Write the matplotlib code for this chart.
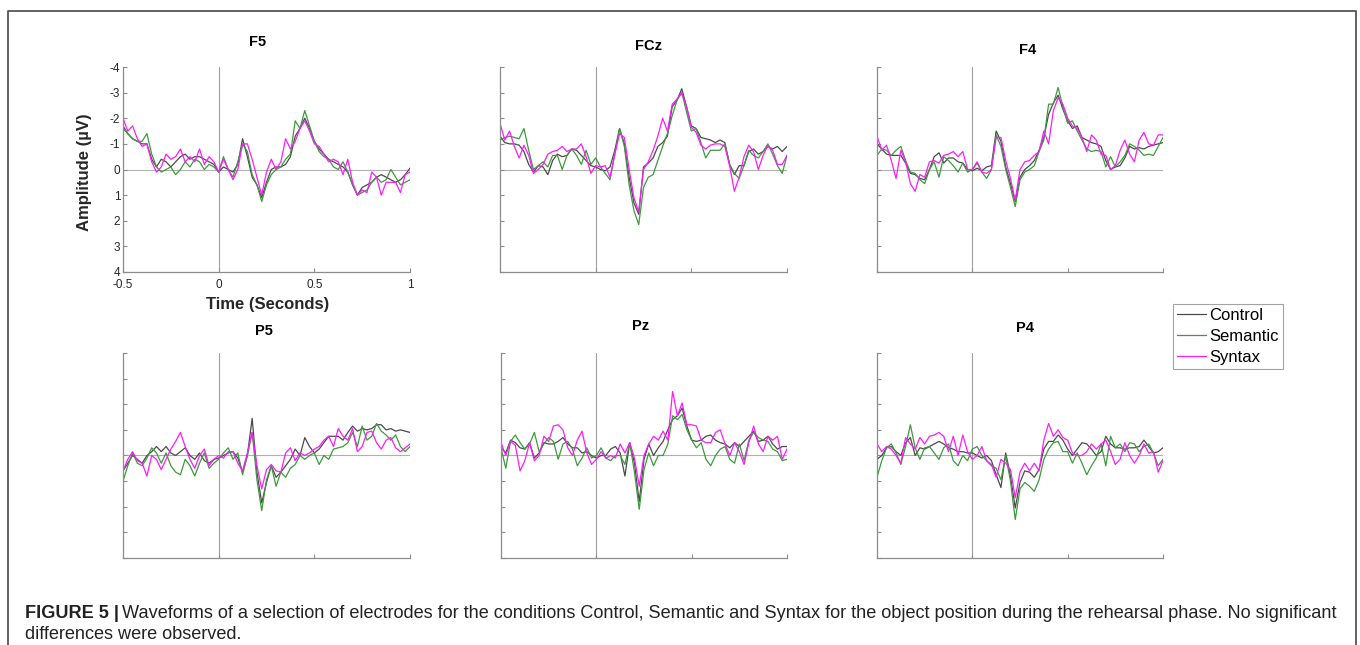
import numpy as np
import matplotlib.pyplot as plt
from matplotlib.lines import Line2D

# sample times (s), one value every 25 ms
times = np.round(np.arange(61) * 0.025 - 0.5, 3)

conditions = ['Control', 'Semantic', 'Syntax']
electrodes = ['F5', 'FCz', 'F4', 'P5', 'Pz', 'P4']

# amplitudes (uV)
f5_control = [-1.7, -1.4, -1.2, -1.1, -1.0, -1.0, -0.4, -0.1, -0.4, -0.3,
              -0.1, -0.3, -0.5, -0.6, -0.4, -0.5, -0.5, -0.4, -0.3, -0.2,
              0.1, -0.1, 0.0, 0.1, -0.2, -1.2, -0.5, 0.3, 0.6, 1.1,
              0.5, 0.0, -0.1, -0.1, -0.2, -0.5, -1.3, -1.6, -2.0, -1.6,
              -1.1, -0.8, -0.6, -0.4, -0.3, -0.2, -0.1, 0.1, 0.6, 1.0,
              0.7, 0.6, 0.5, 0.3, 0.2, 0.3, 0.4, 0.5, 0.4, 0.2,
              -0.05]
f5_semantic = [-1.6, -1.4, -1.2, -1.1, -1.1, -1.4, -0.6, -0.1, 0.1, 0.0,
               -0.1, 0.2, 0.0, -0.3, -0.1, -0.4, -0.3, 0.0, -0.2, -0.1,
               0.1, -0.5, 0.0, 0.3, -0.3, -1.0, -0.7, 0.2, 0.6, 1.25,
               0.6, 0.2, 0.0, -0.1, -0.4, -0.6, -1.9, -1.6, -2.3, -1.7,
               -1.1, -0.7, -0.5, -0.4, -0.1, 0.0, -0.3, 0.1, 0.6, 1.0,
               0.9, 0.8, 0.5, 0.3, 0.5, 0.4, 0.0, 0.3, 0.6, 0.5,
               0.4]
f5_syntax = [-2.0, -1.5, -1.7, -1.2, -0.9, -1.0, -0.3, 0.1, -0.1, -0.6,
             -0.4, -0.5, -0.8, -0.3, -0.5, -0.3, -0.8, -0.2, -0.5, -0.3,
             0.1, -0.4, 0.0, 0.4, 0.0, -1.0, -1.0, -0.4, 0.3, 1.0,
             0.1, -0.4, 0.0, -0.3, -1.2, -0.8, -1.1, -1.6, -1.9, -1.5,
             -1.0, -0.9, -0.6, -0.3, -0.4, -0.3, 0.2, -0.4, 0.5, 1.0,
             0.8, 0.9, 0.1, 0.3, 1.0, 0.5, 0.5, 0.5, 0.9, 0.2,
             0.1]

fcz_control = [-1.3, -1.05, -1.0, -1.0, -0.95, -0.7, -0.2, 0.1, -0.15, -0.1,
               0.2, -0.35, -0.6, -0.5, -0.55, -0.8, -0.75, -0.55, -0.35, -0.15,
               -0.1, 0.0, 0.05, -0.1, -0.75, -1.6, -1.0, 0.3, 1.3, 1.75,
               -0.1, -0.25, -0.45, -0.9, -1.05, -1.3, -2.45, -2.7, -3.15, -2.45,
               -1.7, -1.6, -1.25, -1.2, -1.15, -1.05, -1.15, -1.05, -0.2, 0.2,
               -0.15, -0.15, -0.7, -0.8, -0.6, -0.7, -0.9, -0.8, -0.9, -0.7,
               -0.9]
fcz_semantic = [-1.15, -1.25, -1.3, -1.25, -1.2, -1.6, -0.75, 0.0, -0.15, -0.3,
                -0.1, -0.55, -0.55, 0.0, -0.55, -0.8, -0.55, -0.2, -0.75, -0.2,
                -0.45, -0.1, 0.15, 0.4, -0.6, -1.6, -0.9, 0.6, 1.6, 2.15,
                0.7, 0.3, 0.2, -0.35, -0.9, -1.4, -2.1, -2.7, -3.0, -2.25,
                -1.5, -1.6, -1.05, -0.45, -0.75, -0.75, -0.75, -1.0, -0.2, 0.15,
                0.35, -0.15, -0.75, -0.55, -0.45, -0.7, -1.0, -0.6, -0.15, 0.15,
                -0.55]
fcz_syntax = [-1.8, -1.15, -1.5, -0.9, -0.45, -0.95, -0.55, 0.15, 0.0, -0.2,
              -0.6, -0.7, -0.75, -0.9, -0.7, -0.8, -0.8, -1.0, -0.5, 0.15,
              -0.15, -0.1, -0.15, 0.3, -0.6, -1.4, -1.25, 0.0, 1.1, 1.65,
              0.0, -0.3, -0.75, -1.3, -2.0, -1.5, -2.55, -2.75, -3.0, -2.45,
              -1.65, -1.45, -0.95, -0.8, -0.95, -1.0, -1.0, -0.9, -0.15, 0.85,
              0.3, -0.5, -0.95, -0.7, 0.0, -0.55, -0.95, -0.75, -0.2, -0.2,
              -0.55]

f4_control = [-1.0, -0.8, -0.6, -0.55, -0.55, -0.55, -0.25, 0.15, 0.2, 0.35,
              0.4, 0.0, -0.5, -0.65, -0.25, -0.45, -0.45, -0.3, -0.25, 0.0,
              0.05, -0.05, 0.05, -0.1, -0.15, -1.5, -1.1, -0.1, 0.55, 1.25,
              0.3, 0.0, -0.15, -0.35, -0.75, -1.25, -2.15, -2.6, -2.9, -2.35,
              -1.9, -1.6, -1.7, -1.25, -1.15, -1.05, -1.0, -0.9, -0.35, 0.0,
              -0.1, -0.15, -0.45, -0.9, -0.8, -0.85, -0.8, -0.9, -0.95, -1.0,
              -1.05]
f4_semantic = [-0.55, -0.8, -0.75, -0.55, -0.75, -0.9, -0.35, 0.1, 0.15, 0.4,
               0.55, 0.0, -0.3, 0.3, -0.5, -0.35, -0.15, 0.1, -0.25, 0.1,
               0.0, -0.25, 0.1, 0.35, 0.0, -1.35, -0.9, 0.0, 0.7, 1.45,
               0.4, 0.1, 0.0, -0.15, -0.7, -1.15, -2.55, -2.55, -3.2, -2.45,
               -1.8, -1.9, -1.5, -1.15, -0.8, -0.7, -0.75, -0.7, -0.1, -0.5,
               -0.1, -0.3, -0.55, -1.0, -0.9, -0.75, -0.55, -0.6, -0.55, -0.9,
               -1.25]
f4_syntax = [-1.3, -0.75, -0.95, -0.35, 0.35, -0.75, -0.3, 0.55, 0.85, 0.2,
             0.3, -0.3, -0.35, -0.25, -0.55, -0.6, -0.7, -0.5, -0.7, 0.0,
             0.0, -0.3, 0.1, 0.15, 0.0, -1.25, -1.25, -0.35, 0.35, 1.2,
             0.0, -0.3, -0.35, -0.55, -0.7, -1.5, -1.0, -2.3, -2.8, -2.55,
             -2.0, -1.7, -1.6, -1.25, -0.7, -1.35, -1.15, -0.6, -0.55, 0.0,
             -0.15, -0.75, -1.15, -0.6, -0.3, -1.15, -1.45, -1.0, -0.95, -1.35,
             -1.35]

p5_control = [0.6, 0.3, 0.0, 0.15, 0.3, 0.0, -0.15, -0.35, -0.15, -0.35,
              -0.1, 0.0, -0.15, -0.3, 0.0, 0.15, -0.1, 0.2, 0.3, 0.15,
              0.1, 0.0, -0.1, -0.15, 0.1, 0.65, 0.0, -1.45, 0.65, 1.85,
              1.05, 0.4, 0.85, 0.65, 0.4, 0.15, -0.25, 0.0, -0.7, -0.35,
              -0.1, -0.25, -0.5, -0.75, -0.75, -0.75, -0.6, -0.9, -1.15, -0.95,
              -1.05, -1.0, -1.05, -1.2, -1.2, -1.0, -1.05, -0.95, -1.0, -0.95,
              -0.9]
p5_semantic = [1.0, 0.4, -0.1, 0.3, 0.4, 0.1, -0.3, -0.1, 0.3, -0.1,
               0.4, 0.65, 0.75, 0.15, 0.4, 0.8, 0.3, -0.1, 0.5, 0.3,
               0.15, -0.1, -0.3, 0.15, -0.1, 0.75, 0.0, -0.9, 0.95, 2.15,
               0.95, 0.4, 1.2, 0.65, 0.85, 0.5, 0.35, 0.0, 0.15, 0.0,
               -0.1, 0.35, 0.0, 0.15, -0.25, -0.3, -0.35, -0.5, -0.9, -0.35,
               -1.15, -0.6, -0.75, -1.25, -0.95, -0.8, -0.6, -0.8, -0.35, -0.15,
               -0.35]
p5_syntax = [0.6, 0.15, -0.15, 0.2, 0.3, 0.8, 0.0, 0.15, 0.55, 0.15,
             -0.25, -0.55, -0.9, -0.35, 0.15, 0.5, 0.0, -0.25, 0.4, 0.15,
             0.0, 0.1, -0.15, -0.15, 0.3, 0.6, -0.1, -0.9, 0.4, 1.3,
             0.55, 0.35, 0.6, 0.65, -0.1, -0.3, 0.2, -0.1, 0.0, -0.1,
             -0.25, -0.35, -0.6, -0.75, -0.35, -1.05, -0.75, -0.6, -1.05, -0.15,
             -0.35, -0.9, -0.95, -0.5, -0.25, -0.6, -0.7, -0.3, -0.15, -0.3,
             -0.45]

pz_control = [-0.3, -0.1, -0.6, -0.5, -0.3, -0.25, -0.5, 0.1, -0.1, -0.5,
              -0.45, -0.45, -0.55, -0.7, -0.45, -0.3, -0.3, -0.1, -0.15, 0.0,
              0.1, 0.0, 0.0, -0.25, -0.35, -0.1, 0.8, -0.5, 0.3, 1.8,
              0.15, -0.45, 0.0, -0.3, -0.55, -1.0, -1.4, -1.55, -1.85, -1.15,
              -0.6, -0.55, -0.6, -0.75, -0.8, -0.6, -0.5, -0.45, -0.3, -0.5,
              -0.35, -0.55, -0.75, -0.95, -0.55, -0.6, -0.75, -0.45, -0.25, -0.35,
              -0.35]
pz_semantic = [-0.3, 0.5, -0.55, -0.8, -0.5, -0.25, -0.45, -0.9, -0.15, -0.45,
               -0.7, -0.55, 0.15, -0.45, -0.55, -0.25, 0.4, 0.1, -0.3, 0.1,
               0.0, -0.3, 0.1, 0.2, 0.0, 0.0, 0.35, -0.5, 0.65, 2.1,
               0.55, -0.1, 0.4, 0.0, 0.0, -0.45, -1.55, -1.4, -1.6, -1.0,
               -0.6, -0.3, -0.5, 0.15, 0.4, 0.0, -0.25, -0.35, 0.15, 0.3,
               -0.45, 0.2, -0.6, -0.9, -0.7, -0.6, -0.55, -0.25, -0.15, 0.2,
               0.15]
pz_syntax = [-0.5, 0.0, -0.55, -0.4, 0.6, 0.2, -0.5, 0.2, 0.0, -0.75,
             -0.55, -1.15, -1.2, -1.0, -0.3, 0.0, -0.6, -0.95, -0.1, 0.35,
             0.15, -0.15, 0.1, 0.0, 0.1, -0.45, -0.1, -0.5, 0.1, 1.2,
             0.0, -0.45, -0.75, -0.6, -0.95, -0.6, -2.5, -1.55, -2.05, -1.2,
             -1.2, -1.15, -0.6, -0.5, -0.5, -0.9, -1.0, -0.45, 0.0, -0.5,
             -0.15, 0.35, -0.5, -1.15, -0.45, -0.15, -0.75, -0.6, -0.75, 0.15,
             -0.25]

p4_control = [0.15, 0.0, -0.3, -0.35, -0.15, 0.0, -0.5, -0.7, 0.0, -0.3,
              -0.25, -0.35, -0.45, -0.55, -0.45, -0.3, -0.25, -0.15, -0.15, -0.1,
              -0.1, 0.0, 0.1, 0.0, 0.2, 0.75, 1.25, -0.1, 0.8, 2.05,
              1.05, 0.6, 0.65, 0.85, 0.55, -0.25, -0.55, -0.55, -0.8, -0.6,
              -0.25, 0.0, -0.25, -0.5, -0.45, -0.25, 0.0, -0.15, -0.75, -0.45,
              -0.3, -0.3, -0.25, -0.3, -0.3, -0.35, -0.6, -0.35, -0.1, -0.15,
              -0.3]
p4_semantic = [0.85, 0.2, -0.3, -0.45, -0.1, 0.35, -0.35, -1.2, -0.3, 0.15,
               -0.3, -0.35, -0.1, 0.15, -0.3, -0.45, 0.2, 0.4, 0.0, 0.2,
               -0.25, -0.35, 0.0, 0.2, 0.4, 0.5, 0.95, 0.0, 1.0, 2.5,
               1.3, 1.05, 1.2, 1.4, 0.95, 0.15, -0.25, -0.5, -0.55, -0.15,
               -0.15, 0.3, -0.1, 0.3, 0.75, 0.4, 0.1, -0.45, 0.4, -0.75,
               -0.3, -0.45, -0.15, -0.5, -0.45, -0.15, -0.35, -0.45, -0.1, 0.4,
               0.15]
p4_syntax = [-0.45, -0.15, -0.35, -0.25, 0.0, 0.3, -0.7, -0.45, -0.25, -0.7,
             -0.45, -0.75, -0.8, -0.9, -0.75, -0.15, -0.75, 0.0, -0.8, -0.15,
             0.15, 0.0, -0.35, 0.2, 0.35, 0.85, 0.15, 0.3, 0.55, 1.65,
             0.65, 0.3, 0.6, 0.3, 0.6, -0.6, -1.25, -0.75, -1.0, -0.7,
             -0.6, -0.1, 0.0, 0.0, -0.15, -0.45, -0.25, -0.45, -0.6, -0.15,
             0.35, 0.15, -0.5, 0.0, 0.3, 0.0, -0.45, -0.1, -0.15, 0.65,
             0.2]

waves = {
    'F5': [f5_control, f5_semantic, f5_syntax],
    'FCz': [fcz_control, fcz_semantic, fcz_syntax],
    'F4': [f4_control, f4_semantic, f4_syntax],
    'P5': [p5_control, p5_semantic, p5_syntax],
    'Pz': [pz_control, pz_semantic, pz_syntax],
    'P4': [p4_control, p4_semantic, p4_syntax],
}

colors = ['#4a4a4a', '#3c9a3c', '#ff1aff']
grey = '#8c8c8c'

W, H = 1360, 645
plt.rcParams['font.family'] = ['Liberation Sans', 'DejaVu Sans']
plt.rcParams['axes.unicode_minus'] = False
fig = plt.figure(figsize=(W / 100, H / 100), dpi=100)

# panel boxes in pixels: left, top, right, bottom
boxes = {
    'F5': (123, 67, 410, 272), 'FCz': (500, 67, 787, 272), 'F4': (877, 67, 1163, 272),
    'P5': (123, 353, 410, 558), 'Pz': (501, 353, 787, 558), 'P4': (877, 353, 1163, 558),
}
# title positions in pixels
title_pos = {
    'F5': (258, 42), 'FCz': (648, 46), 'F4': (1028, 50),
    'P5': (264, 331), 'Pz': (641, 326), 'P4': (1025, 328),
}

axes = {}
for name in electrodes:
    l, t, r, b = boxes[name]
    ax = fig.add_axes([l / W, 1 - b / H, (r - l) / W, (b - t) / H])
    ax.axhline(0, color='#b0b0b0', lw=0.8, zorder=1)
    ax.axvline(0, color='#a0a0a0', lw=0.8, zorder=1)
    for vals, cond, c in zip(waves[name], conditions, colors):
        ax.plot(times, vals, color=c, lw=0.9, label=cond, zorder=2)
    ax.set_xlim(-0.5, 1)
    ax.set_ylim(4, -4)
    ax.set_xticks([-0.5, 0, 0.5, 1])
    ax.set_yticks(range(-4, 5))
    for side in ['top', 'right']:
        ax.spines[side].set_visible(False)
    for side in ['left', 'bottom']:
        ax.spines[side].set_color(grey)
        ax.spines[side].set_linewidth(0.9)
    ax.tick_params(direction='in', length=3, width=0.8, color=grey,
                   labelsize=8.5, labelcolor='#262626', pad=2)
    ax.tick_params(axis='x', pad=5)
    if name != 'F5':
        ax.set_xticklabels([])
        ax.set_yticklabels([])
    else:
        ax.set_xticklabels(['-0.5', '0', '0.5', '1'])
    fig.text(title_pos[name][0] / W, 1 - title_pos[name][1] / H, name,
             ha='center', va='center', fontsize=10.5, fontweight='bold')
    axes[name] = ax

# axis labels only on the first panel
fig.text(85 / W, 1 - 172 / H, 'Amplitude (µV)', rotation=90, ha='center', va='center',
         fontsize=12, fontweight='bold', color='#262626')
fig.text(268 / W, 1 - 305 / H, 'Time (Seconds)', ha='center', va='center',
         fontsize=12, fontweight='bold', color='#262626')

# legend
handles, labels = axes['F5'].get_legend_handles_labels()
leg = fig.legend(handles, labels, loc='upper left', bbox_to_anchor=(1173 / W, 1 - 304 / H),
                 fontsize=12, frameon=True, fancybox=False, handlelength=1.7,
                 handletextpad=0.2, borderpad=0.25, labelspacing=0.35, borderaxespad=0)
leg.get_frame().set_edgecolor(grey)
leg.get_frame().set_linewidth(0.8)

# outer frame, open at the bottom
frame_x = [8 / W, 8 / W, 1356 / W, 1356 / W]
frame_y = [0, 1 - 11 / H, 1 - 11 / H, 0]
fig.add_artist(Line2D(frame_x, frame_y, transform=fig.transFigure, color='#555555', lw=1.3))

# caption
cap_size = 13.1
renderer = fig.canvas.get_renderer()
bold = fig.text(25 / W, 1 - 618 / H, 'FIGURE 5 |', ha='left', va='baseline',
                fontsize=cap_size, fontweight='bold', color='#222222')
bb = bold.get_window_extent(renderer)
fig.text((bb.x1 + 3) / W, 1 - 618 / H,
         'Waveforms of a selection of electrodes for the conditions Control, Semantic and Syntax '
         'for the object position during the rehearsal phase. No significant',
         ha='left', va='baseline', fontsize=cap_size, color='#222222')
fig.text(25 / W, 1 - 639 / H, 'differences were observed.', ha='left', va='baseline',
         fontsize=cap_size, color='#222222')

fig.savefig('out.png', dpi=100)
